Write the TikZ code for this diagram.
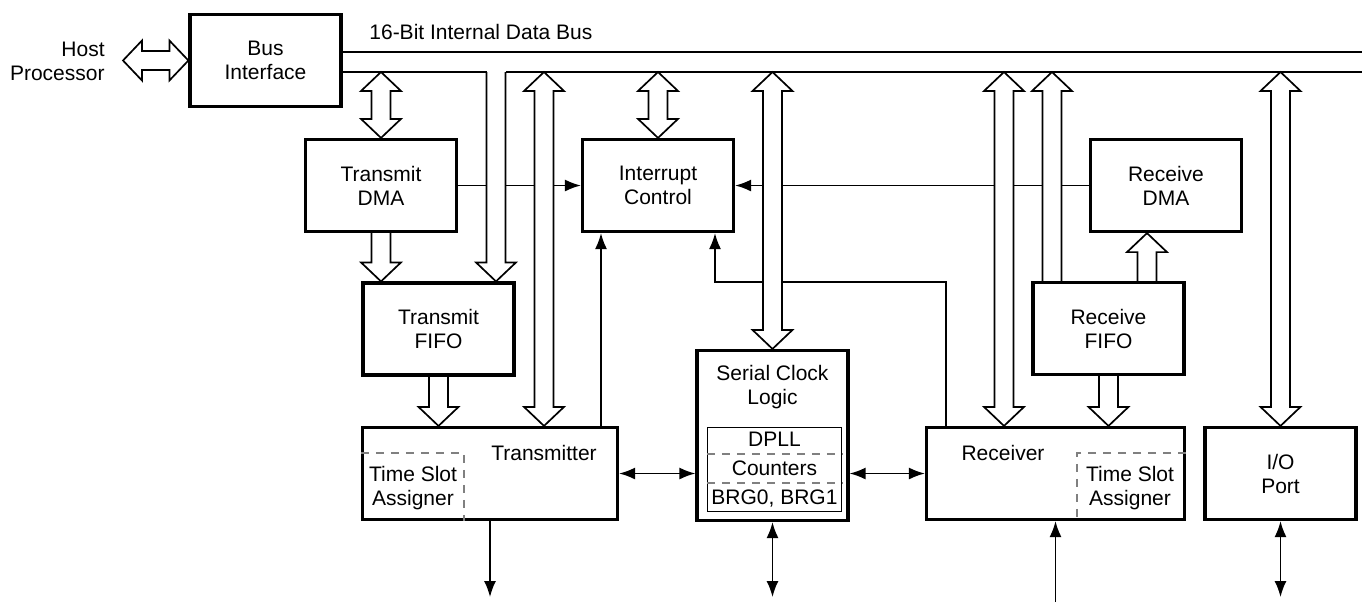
\documentclass[tikz,border=0pt]{standalone}
\usepackage{fontspec}
\setmainfont{Liberation Sans}
\usetikzlibrary{arrows.meta,calc,backgrounds}

\begin{document}
\begin{tikzpicture}[
        x=0.5pt,
        y=-0.5pt,
        font=\fontsize{10.5}{12}\selectfont,
        >={Latex[length=8pt,width=6pt]},
        block/.style={
            draw=black,
            line width=1.6pt,
            minimum width=75.5pt,
            minimum height=46pt,
            inner sep=0pt,
            align=center,
        },
        part/.style={
            draw=black,
            line width=0.75pt,
            minimum width=67pt,
            minimum height=42pt,
            inner sep=0pt,
            align=center,
            font=\fontsize{10.5}{14.5}\selectfont,
        },
        txt/.style={
            inner sep=0pt,
            align=center,
        },
        link/.style={
            line width=0.8pt,
        },
        slot/.style={
            draw=black!50,
            line width=0.7pt,
            dash pattern=on 4pt off 3.5pt,
        },
        fat/.style={
            draw=black,
            fill=white,
            line width=0.85pt,
            to path={
                ($(\tikztostart)!4.75pt!90:(\tikztotarget)$)
                -- ($(\tikztotarget)!9.5pt!(\tikztostart)!4.75pt!90:(\tikztotarget)$)
                -- ($(\tikztotarget)!9.5pt!(\tikztostart)!10pt!90:(\tikztotarget)$)
                -- (\tikztotarget)
                -- ($(\tikztotarget)!9.5pt!(\tikztostart)!10pt!-90:(\tikztotarget)$)
                -- ($(\tikztotarget)!9.5pt!(\tikztostart)!4.75pt!-90:(\tikztotarget)$)
                -- ($(\tikztostart)!4.75pt!-90:(\tikztotarget)$)
            },
        },
        fatboth/.style={
            draw=black,
            fill=white,
            line width=0.85pt,
            to path={
                -- ($(\tikztostart)!9.5pt!(\tikztotarget)!10pt!90:(\tikztotarget)$)
                -- ($(\tikztostart)!9.5pt!(\tikztotarget)!4.75pt!90:(\tikztotarget)$)
                -- ($(\tikztotarget)!9.5pt!(\tikztostart)!4.75pt!90:(\tikztotarget)$)
                -- ($(\tikztotarget)!9.5pt!(\tikztostart)!10pt!90:(\tikztotarget)$)
                -- (\tikztotarget)
                -- ($(\tikztotarget)!9.5pt!(\tikztostart)!10pt!-90:(\tikztotarget)$)
                -- ($(\tikztotarget)!9.5pt!(\tikztostart)!4.75pt!-90:(\tikztotarget)$)
                -- ($(\tikztostart)!9.5pt!(\tikztotarget)!4.75pt!-90:(\tikztotarget)$)
                -- ($(\tikztostart)!9.5pt!(\tikztotarget)!10pt!-90:(\tikztotarget)$)
                -- cycle
            },
        },
    ]

    \useasboundingbox (0, 0) rectangle (1362, 602);

    \node[block] (bus)   at (265.5, 60.5)  {Bus\\Interface};
    \node[block] (tdma)  at (381, 185.5)   {Transmit\\DMA};
    \node[block] (tfifo) at (438.5, 329)   {Transmit\\FIFO};
    \node[block, minimum width=127.5pt] (tx) at (490, 473.5) {};
    \node[block] (intc)  at (658, 185.5)   {Interrupt\\Control};
    \node[block, minimum height=85pt] (scl) at (772.5, 435.5) {};
    \node[part]  (clk)   at (774.5, 469.5) {DPLL\\Counters\\BRG0, BRG1};
    \node[block] (rdma)  at (1166, 185.5)  {Receive\\DMA};
    \node[block] (rfifo) at (1108.5, 328.5) {Receive\\FIFO};
    \node[block, minimum width=129pt] (rx) at (1055.5, 473.5) {};
    \node[block] (io)    at (1280.5, 473.5) {I/O\\Port};

    \node[txt, align=right, anchor=east] (host) at (105, 61) {Host\\Processor};
    \node[txt, anchor=west] (buslbl) at (369, 32) {16-Bit Internal Data Bus};
    \node[txt] (txlbl)   at (544, 453)   {Transmitter};
    \node[txt] (txslot)  at (413, 488)   {Time Slot\\Assigner};
    \node[txt] (rxlbl)   at (1003, 453)  {Receiver};
    \node[txt] (rxslot)  at (1130, 488)  {Time Slot\\Assigner};
    \node[txt] (scllbl)  at (772.5, 387) {Serial Clock\\Logic};

    \coordinate (bus1)     at (1362, 52);
    \coordinate (bus2)     at (1362, 72);
    \coordinate (hostport) at (123, 60.5);
    \coordinate (txout)    at (490, 597);
    \coordinate (sclout)   at (772.5, 597);
    \coordinate (rxin)     at (1055.5, 602);
    \coordinate (ioout)    at (1280.5, 597);

    \draw[slot] (tx.west |- 0,453) -| (464,0 |- tx.south);
    \draw[slot] (rx.east |- 0,453) -| (1077,0 |- rx.south);
    \draw[slot] (clk.west |- 0,454) -- (clk.east |- 0,454);
    \draw[slot] (clk.west |- 0,483) -- (clk.east |- 0,483);

    \begin{scope}[on background layer]
        \draw[link] (bus.east |- bus1) -- (bus1);
        \draw[link] (bus.east |- bus2) -- (486.5,0 |- bus2);
        \draw[link] (505.5,0 |- bus2) -- (bus2);

        \draw[link, ->] (tdma.east) -- (intc.west);
        \draw[link, ->] (rdma.west) -- (intc.east);
        \draw[link, ->] (tx.north -| 601,0) -- (intc.south -| 601,0);
        \draw[link, ->] (rx.north -| 946,0) -- (946, 282) -| (intc.south -| 715,0);
        \draw[link, <->] (tx.east) -- (scl.west |- tx.east);
        \draw[link, <->] (rx.west) -- (scl.east |- rx.west);
        \draw[link, ->] (tx.south) -- (txout);
        \draw[link, <->] (scl.south) -- (sclout);
        \draw[link, ->] (rxin) -- (rx.south);
        \draw[link, <->] (io.south) -- (ioout);

        \draw[fatboth] (hostport) to (bus.west);
        \draw[fatboth] (tdma.north |- bus2) to (tdma.north);
        \draw[fat] (tdma.south) to (tdma.south |- tfifo.north);
        \draw[fat] (496,0 |- bus2) to (tfifo.north -| 496,0);
        \draw[fatboth] (544,0 |- bus2) to (tx.north -| 544,0);
        \draw[fat] (tfifo.south) to (tfifo.south |- tx.north);
        \draw[fatboth] (intc.north |- bus2) to (intc.north);
        \draw[fatboth] (scl.north |- bus2) to (scl.north);
        \draw[fatboth] (1004,0 |- bus2) to (rx.north -| 1004,0);
        \draw[fat] (rfifo.north -| 1052,0) to (1052,0 |- bus2);
        \draw[fat] (rfifo.north -| 1147,0) to (rdma.south -| 1147,0);
        \draw[fat] (rfifo.south) to (rfifo.south |- rx.north);
        \draw[fatboth] (io.north |- bus2) to (io.north);
    \end{scope}

\end{tikzpicture}
\end{document}
